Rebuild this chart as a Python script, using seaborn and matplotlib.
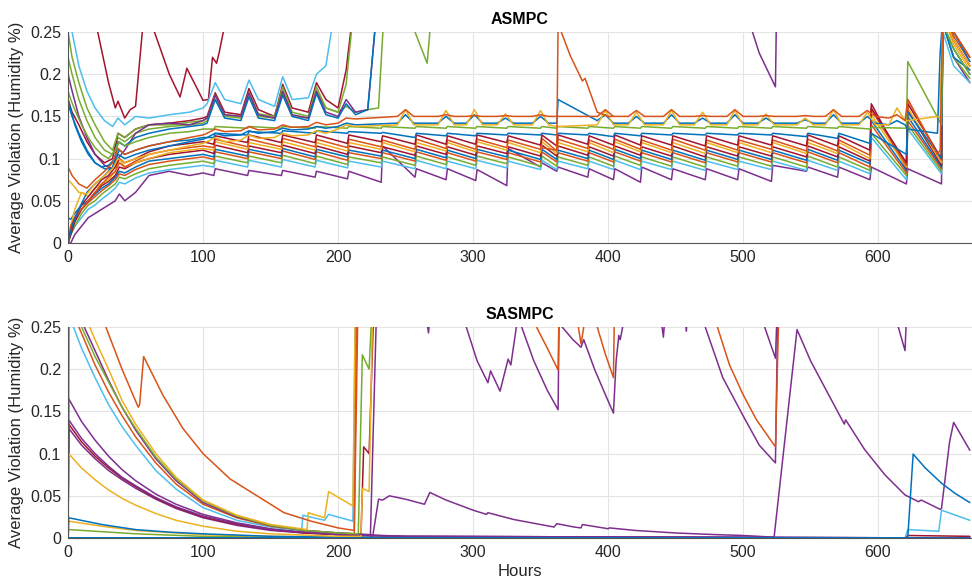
import matplotlib
matplotlib.use("Agg")
import matplotlib.pyplot as plt
import seaborn as sns

BLUE = "#0072BD"; ORANGE = "#D95319"; YELLOW = "#EDB120"; PURPLE = "#7E2F8E"
GREEN = "#77AC30"; CYAN = "#4DBEEE"; RED = "#A2142F"

# ---------------- ASMPC (top panel) ----------------
# shared hour grid for the bundle lines (dip at event hour, jump one hour later)
hours_saw = [0, 2, 5, 10, 15, 20, 25, 30, 35, 38, 42, 50, 60, 75, 90, 100,
             108, 109, 133, 134, 158, 159, 183, 184, 207, 208, 232, 233, 257, 258,
             280, 281, 302, 303, 325, 326, 350, 351, 362, 363, 385, 386, 404, 405,
             424, 425, 447, 448, 472, 473, 496, 497, 521, 522, 547, 548, 570, 571,
             594, 595, 621, 622, 647, 648, 656, 668]

saw_red = [0.0, 0.015, 0.03, 0.045, 0.055, 0.065, 0.075, 0.08, 0.09, 0.1, 0.095, 0.1, 0.108, 0.115, 0.118, 0.12,
           .117, .127, .119, .128, .119, .128, .119, .128, .118, .128, .12, .127, .117, .128, .117, .127, .117, .128,
           .119, .127, .116, .128, .115, .128, .117, .127, .116, .128, .116, .127, .116, .127, .115, .127, .116, .127,
           .116, .127, .115, .128, .115, .127, .11, .16, .095, .165, .1, .27, .24, .21]
saw_orange = [0, 0.02, 0.03, 0.04, 0.05, 0.06, 0.07, 0.078, 0.085, 0.095, 0.09, 0.097, 0.105, 0.11, 0.113, 0.115,
              .113, .123, .114, .123, .114, .124, .114, .123, .113, .123, .114, .122, .111, .123, .112, .122, .111, .123,
              .113, .122, .111, .124, .109, .123, .112, .122, .111, .123, .111, .122, .11, .123, .11, .122, .11, .122,
              .111, .122, .109, .123, .109, .122, .104, .158, .092, .17, .098, .28, .245, .215]
saw_yellow = [0, 0.02, 0.04, 0.06, 0.055, 0.065, 0.07, 0.075, 0.085, 0.1, 0.09, 0.095, 0.1, 0.107, 0.11, 0.112,
              .11, .12, .111, .119, .111, .12, .11, .119, .109, .119, .111, .119, .108, .119, .109, .119, .108, .12,
              .11, .119, .107, .12, .106, .119, .108, .119, .107, .12, .108, .119, .107, .119, .106, .119, .107, .119,
              .107, .119, .106, .119, .106, .119, .1, .152, .09, .16, .095, .27, .235, .205]
saw_red2 = [0, 0.01, 0.025, 0.04, 0.05, 0.06, 0.068, 0.073, 0.08, 0.09, 0.088, 0.095, 0.1, 0.105, 0.108, 0.11,
            .106, .116, .107, .115, .107, .116, .106, .115, .105, .115, .107, .114, .104, .115, .105, .114, .104, .115,
            .106, .114, .103, .116, .103, .115, .104, .114, .103, .115, .104, .114, .103, .115, .102, .114, .103, .114,
            .103, .114, .102, .115, .102, .114, .097, .165, .088, .158, .092, .3, .25, .22]
saw_blue = [0.03, 0.028, 0.035, 0.045, 0.05, 0.058, 0.065, 0.07, 0.078, 0.085, 0.083, 0.09, 0.097, 0.1, 0.103, 0.105,
            .102, .111, .103, .111, .103, .112, .102, .111, .102, .11, .103, .11, .1, .111, .101, .11, .1, .111,
            .102, .11, .099, .111, .099, .11, .1, .11, .099, .111, .1, .11, .099, .11, .098, .11, .099, .11,
            .099, .11, .098, .111, .098, .11, .094, .145, .086, .15, .09, .26, .23, .2]
saw_orange2 = [0, 0.015, 0.028, 0.04, 0.048, 0.055, 0.062, 0.068, 0.075, 0.082, 0.08, 0.087, 0.093, 0.097, 0.1, 0.102,
               .099, .108, .1, .108, .1, .109, .099, .108, .098, .107, .1, .107, .097, .108, .098, .107, .097, .108,
               .099, .107, .096, .108, .096, .107, .097, .107, .096, .108, .097, .107, .096, .107, .095, .107, .096, .107,
               .096, .107, .095, .108, .095, .107, .09, .14, .083, .145, .088, .29, .24, .21]
saw_green = [0, 0.01, 0.02, 0.035, 0.045, 0.05, 0.058, 0.064, 0.07, 0.078, 0.076, 0.082, 0.088, 0.092, 0.095, 0.097,
             .094, .103, .095, .103, .095, .104, .094, .103, .093, .102, .095, .102, .092, .103, .093, .102, .092, .103,
             .094, .102, .091, .103, .091, .102, .092, .102, .091, .103, .092, .102, .091, .102, .09, .102, .091, .102,
             .091, .102, .09, .103, .09, .102, .086, .13, .08, .14, .085, .26, .22, .195]
saw_cyan = [0, 0.01, 0.02, 0.03, 0.04, 0.045, 0.052, 0.058, 0.065, 0.072, 0.07, 0.077, 0.083, 0.087, 0.09, 0.092,
            .09, .098, .09, .098, .09, .099, .09, .098, .089, .097, .09, .097, .088, .098, .088, .097, .088, .098,
            .089, .097, .087, .098, .087, .097, .088, .097, .087, .098, .087, .097, .087, .097, .086, .097, .087, .097,
            .087, .097, .086, .098, .086, .097, .082, .125, .075, .135, .082, .25, .21, .19]
saw_purple = [0, 0.0, 0.01, 0.02, 0.03, 0.035, 0.04, 0.045, 0.05, 0.058, 0.05, 0.06, 0.08, 0.085, 0.08, 0.083,
              .08, .088, .08, .086, .08, .086, .078, .085, .076, .085, .072, .115, .078, .088, .075, .088, .074, .087,
              .068, .112, .09, .095, .085, .09, .078, .088, .075, .088, .072, .09, .075, .088, .075, .088, .075, .088,
              .073, .092, .085, .09, .078, .09, .075, .09, .07, .088, .07, .26, .22, .19]
saw_blue_mid = [0.17, 0.158, 0.14, 0.12, 0.105, 0.095, 0.09, 0.092, 0.1, 0.11, 0.105, 0.11, 0.115, 0.12, 0.122, 0.125,
                .125, .13, .128, .132, .13, .133, .13, .133, .13, .132, .13, .131, .125, .13, .127, .13, .127, .13,
                .128, .13, .128, .13, .128, .13, .128, .13, .126, .13, .127, .13, .128, .13, .128, .13, .128, .13,
                .128, .13, .126, .13, .124, .13, .118, .13, .105, .155, .1, .26, .22, .205]
saw_green_mid = [0.18, 0.17, 0.158, 0.14, 0.125, 0.113, 0.105, 0.1, 0.11, 0.12, 0.115, 0.12, 0.125, 0.13, 0.132, 0.135,
                 .135, .138, .136, .138, .136, .138, .136, .138, .136, .138, .136, .138, .136, .138, .136, .138, .136, .138,
                 .136, .138, .136, .138, .136, .138, .136, .138, .136, .138, .136, .138, .136, .138, .136, .138, .136, .138,
                 .136, .138, .136, .138, .136, .138, .135, .137, .136, .215, .14, .26, .23, .2]

# grid for the upper lines with rounded bumps
hours_bump = [0, 3, 8, 14, 20, 27, 33, 37, 42, 50, 60, 75, 90, 100,
              103, 109, 116, 128, 134, 141, 153, 159, 166, 178, 184, 191, 200, 206, 213,
              244, 250, 256, 274, 280, 286, 295, 301, 307, 318, 324, 330, 344, 350, 356, 362, 363,
              392, 398, 404, 415, 421, 427, 441, 447, 453, 464, 470, 476, 488, 494, 500, 511, 517, 523,
              540, 546, 552, 561, 567, 573, 586, 592, 598, 608, 614, 620, 622, 644, 646, 648, 656, 668]
bump_orange = [0.09, 0.08, 0.07, 0.065, 0.075, 0.085, 0.095, 0.112, 0.105, 0.11, 0.115, 0.12, 0.125, 0.128,
               0.13, 0.135, 0.132, 0.133, 0.138, 0.134, 0.135, 0.14, 0.137, 0.138, 0.143, 0.14, 0.142, 0.148, 0.147,
               0.15, 0.158, 0.15, 0.15, 0.152, 0.15, 0.15, 0.151, 0.15, 0.15, 0.151, 0.15, 0.15, 0.152, 0.15, 0.15, 0.15,
               0.15, 0.158, 0.15, 0.15, 0.157, 0.15, 0.15, 0.158, 0.15, 0.15, 0.151, 0.15, 0.15, 0.158, 0.15, 0.15, 0.151, 0.15,
               0.15, 0.151, 0.15, 0.15, 0.158, 0.15, 0.15, 0.157, 0.15, 0.148, 0.152, 0.145, 0.17, 0.105, 0.11, 0.28, 0.25, 0.22]
bump_yellow = [0.075, 0.07, 0.06, 0.058, 0.07, 0.08, 0.088, 0.1, 0.095, 0.1, 0.105, 0.11, 0.115, 0.118,
               0.12, 0.125, 0.12, 0.122, 0.128, 0.124, 0.125, 0.13, 0.127, 0.128, 0.133, 0.13, 0.135, 0.14, 0.138,
               0.14, 0.158, 0.14, 0.14, 0.157, 0.14, 0.14, 0.158, 0.14, 0.14, 0.153, 0.14, 0.14, 0.157, 0.14, 0.138, 0.138,
               0.14, 0.157, 0.14, 0.14, 0.155, 0.14, 0.14, 0.157, 0.14, 0.14, 0.155, 0.14, 0.14, 0.157, 0.14, 0.14, 0.153, 0.14,
               0.14, 0.148, 0.14, 0.14, 0.158, 0.14, 0.14, 0.155, 0.14, 0.14, 0.16, 0.145, 0.145, 0.15, 0.148, 0.27, 0.24, 0.21]
bump_blue = [0.0, 0.02, 0.04, 0.06, 0.07, 0.08, 0.09, 0.105, 0.1, 0.105, 0.11, 0.115, 0.12, 0.123,
             0.125, 0.13, 0.127, 0.128, 0.133, 0.13, 0.132, 0.136, 0.134, 0.135, 0.138, 0.136, 0.138, 0.142, 0.14,
             0.142, 0.152, 0.142, 0.142, 0.15, 0.142, 0.142, 0.152, 0.142, 0.142, 0.148, 0.142, 0.142, 0.15, 0.142, 0.142, 0.17,
             0.145, 0.152, 0.142, 0.142, 0.15, 0.142, 0.142, 0.152, 0.142, 0.142, 0.148, 0.142, 0.142, 0.152, 0.142, 0.142, 0.148, 0.142,
             0.142, 0.146, 0.142, 0.142, 0.152, 0.142, 0.142, 0.15, 0.142, 0.14, 0.145, 0.14, 0.135, 0.13, 0.225, 0.27, 0.25, 0.215]

# grid for the high group that leaves the axes around hour 200-235
hours_high = [0, 3, 8, 14, 20, 27, 33, 37, 42, 50, 60, 75, 90, 100, 103, 109, 116, 128, 134, 141,
              153, 159, 166, 178, 184, 191, 200, 206, 213, 222, 230, 235]
high_cyan = [0.3, 0.25, 0.21, 0.18, 0.16, 0.145, 0.138, 0.148, 0.14, 0.15, 0.148, 0.152, 0.155, 0.16, 0.165, 0.19,
             0.17, 0.165, 0.193, 0.17, 0.162, 0.197, 0.17, 0.172, 0.2, 0.21, 0.3, 0.3, 0.3, 0.3, 0.3, 0.3]
high_red = [0.17, 0.155, 0.14, 0.12, 0.105, 0.095, 0.1, 0.13, 0.125, 0.135, 0.14, 0.142, 0.145, 0.148, 0.15, 0.178,
            0.155, 0.152, 0.183, 0.158, 0.15, 0.188, 0.16, 0.155, 0.19, 0.17, 0.16, 0.205, 0.3, 0.3, 0.3, 0.3]
high_green = [0.25, 0.22, 0.19, 0.16, 0.14, 0.12, 0.11, 0.13, 0.125, 0.135, 0.14, 0.14, 0.143, 0.145, 0.148, 0.175,
              0.152, 0.15, 0.178, 0.153, 0.15, 0.185, 0.155, 0.15, 0.185, 0.16, 0.155, 0.188, 0.3, 0.3, 0.3, 0.3]
high_purple = [0.2, 0.18, 0.15, 0.125, 0.105, 0.092, 0.088, 0.1, 0.11, 0.13, 0.14, 0.142, 0.14, 0.145, 0.148, 0.175,
               0.152, 0.15, 0.178, 0.152, 0.148, 0.18, 0.152, 0.148, 0.18, 0.155, 0.15, 0.17, 0.155, 0.158, 0.3, 0.3]
high_blue = [0.165, 0.15, 0.13, 0.11, 0.095, 0.088, 0.088, 0.12, 0.115, 0.125, 0.13, 0.135, 0.138, 0.14, 0.142, 0.17,
             0.148, 0.145, 0.173, 0.148, 0.145, 0.175, 0.15, 0.145, 0.177, 0.152, 0.148, 0.165, 0.152, 0.158, 0.3, 0.3]
high_green2 = [0.22, 0.2, 0.17, 0.145, 0.125, 0.11, 0.105, 0.125, 0.12, 0.13, 0.135, 0.138, 0.14, 0.142, 0.145, 0.17,
               0.15, 0.148, 0.175, 0.15, 0.148, 0.178, 0.15, 0.148, 0.18, 0.16, 0.155, 0.162, 0.155, 0.158, 0.16, 0.3]

wild_red_hours = [0, 8, 15, 22, 30, 35, 37, 42, 46, 50, 55, 59, 64, 75, 83, 88, 95, 100, 104, 107, 110, 112, 115, 118]
wild_red_vals = [0.4, 0.35, 0.3, 0.25, 0.19, 0.16, 0.168, 0.148, 0.158, 0.162, 0.25, 0.3, 0.25, 0.2, 0.173, 0.207,
                 0.185, 0.169, 0.17, 0.22, 0.213, 0.226, 0.25, 0.3]
green_v_hours = [250, 257, 266, 268, 272]
green_v_vals = [0.3, 0.25, 0.213, 0.25, 0.3]
purple_v_hours = [500, 507, 512, 524, 525]
purple_v_vals = [0.3, 0.25, 0.225, 0.185, 0.3]
orange_spike_hours = [350, 362, 363, 372, 381, 383, 392, 400, 404]
orange_spike_vals = [0.113, 0.11, 0.26, 0.222, 0.192, 0.195, 0.155, 0.15, 0.15]

# ---------------- SASMPC (bottom panel) ----------------
b_orange_h = [0, 0.6, 10, 20, 28, 40, 52, 53, 56, 70, 85, 100, 120, 140, 160, 180, 200, 212, 214, 340,
              347, 355, 363, 364, 376, 378, 380, 382, 384, 390, 392, 398, 404, 405, 478, 481, 490, 500, 510, 524, 527, 668]
b_orange_v = [0, 0.5, 0.38, 0.3, 0.25, 0.2, 0.155, 0.158, 0.215, 0.17, 0.13, 0.1, 0.07, 0.05, 0.03, 0.02, 0.012, 0.009, 0.3, 0.3,
              0.25, 0.225, 0.199, 0.3, 0.3, 0.25, 0.23, 0.25, 0.3, 0.3, 0.25, 0.218, 0.19, 0.3, 0.3, 0.25, 0.205, 0.17, 0.14, 0.108, 0.3, 0.3]
b_cyan_h = [0, 0.5, 4, 10, 20, 30, 40, 50, 65, 80, 100, 125, 150, 173, 174, 190, 193, 211, 213]
b_cyan_v = [0, 0.3, 0.25, 0.225, 0.19, 0.158, 0.132, 0.11, 0.08, 0.058, 0.036, 0.021, 0.013, 0.009, 0.027, 0.021, 0.028, 0.02, 0.3]
b_yellow_h = [0, 0.5, 16, 20, 30, 40, 50, 65, 80, 100, 125, 150, 177, 178, 190, 193, 211, 213]
b_yellow_v = [0, 0.4, 0.25, 0.235, 0.2, 0.163, 0.135, 0.1, 0.072, 0.045, 0.027, 0.016, 0.01, 0.03, 0.024, 0.055, 0.038, 0.3]
b_green_h = [0, 0.5, 10, 20, 30, 40, 50, 65, 80, 100, 125, 150, 175, 200, 215, 218, 223, 226]
b_green_v = [0, 0.4, 0.25, 0.215, 0.185, 0.155, 0.13, 0.096, 0.07, 0.044, 0.026, 0.015, 0.009, 0.006, 0.005, 0.217, 0.2, 0.3]
b_orange2_h = [0, 0.5, 8, 20, 30, 40, 50, 65, 80, 100, 125, 150, 175, 200, 212, 215]
b_orange2_v = [0, 0.4, 0.25, 0.205, 0.173, 0.145, 0.12, 0.089, 0.064, 0.04, 0.024, 0.014, 0.009, 0.006, 0.005, 0.3]
b_purple_h = [0, 0.5, 12, 20, 30, 40, 50, 65, 80, 100, 125, 150, 175, 200, 224, 229, 262, 267, 270, 290,
              295, 303, 311, 313, 320, 326, 328, 333, 336, 345, 355, 363, 364, 366, 374, 380, 382, 390, 398, 404,
              406, 408, 409, 412, 436, 441, 444, 455, 458, 460, 468, 472, 485, 500, 512, 524, 526, 668]
b_purple_v = [0, 0.4, 0.25, 0.222, 0.187, 0.155, 0.128, 0.094, 0.068, 0.042, 0.025, 0.015, 0.009, 0.006, 0.004, 0.3, 0.3, 0.243, 0.3, 0.3,
              0.25, 0.21, 0.184, 0.198, 0.174, 0.212, 0.205, 0.26, 0.25, 0.21, 0.175, 0.152, 0.3, 0.25, 0.235, 0.226, 0.235, 0.2, 0.17, 0.148,
              0.21, 0.24, 0.235, 0.26, 0.3, 0.238, 0.3, 0.3, 0.245, 0.3, 0.3, 0.25, 0.19, 0.145, 0.11, 0.089, 0.3, 0.3]
b_purple2_h = [510, 516, 524, 526]
b_purple2_v = [0.3, 0.25, 0.213, 0.3]
b_purple3_h = [612, 615, 620, 622]
b_purple3_v = [0.3, 0.25, 0.222, 0.3]
decay_h = [0, 0.5, 10, 20, 30, 40, 50, 65, 80, 100, 125, 150, 175, 200, 250, 668]
b_purpleB1_v = [0, 0.165, 0.138, 0.116, 0.097, 0.081, 0.068, 0.052, 0.04, 0.028, 0.018, 0.011, 0.007, 0.005, 0.002, 0.0]
b_purpleB2_v = [0, 0.14, 0.118, 0.1, 0.085, 0.072, 0.062, 0.048, 0.037, 0.026, 0.017, 0.01, 0.007, 0.004, 0.002, 0.0]
b_purpleB3_v = [0, 0.13, 0.11, 0.094, 0.08, 0.069, 0.059, 0.046, 0.035, 0.024, 0.015, 0.009, 0.006, 0.004, 0.002, 0.0]
b_redB_h = [0, 0.5, 10, 20, 30, 40, 50, 65, 80, 100, 125, 150, 175, 200, 217, 219, 223, 227]
b_redB_v = [0, 0.135, 0.114, 0.097, 0.083, 0.071, 0.061, 0.047, 0.036, 0.025, 0.016, 0.01, 0.006, 0.004, 0.003, 0.108, 0.1, 0.3]
b_yellowC_h = [0, 0.5, 10, 20, 30, 40, 50, 65, 80, 100, 125, 150, 200, 217, 218, 223, 226]
b_yellowC_v = [0, 0.1, 0.083, 0.069, 0.057, 0.047, 0.039, 0.029, 0.021, 0.014, 0.008, 0.005, 0.002, 0.002, 0.059, 0.055, 0.3]
b_blueL_h = [0, 0.5, 25, 50, 75, 100, 150, 200, 668]
b_blueL_v = [0, 0.024, 0.016, 0.01, 0.007, 0.005, 0.002, 0.001, 0.0]
b_yellowL_h = [0, 0.5, 25, 50, 100, 150, 200, 668]
b_yellowL_v = [0, 0.02, 0.014, 0.009, 0.004, 0.002, 0.001, 0.0]
b_greenL_h = [0, 0.5, 50, 100, 200, 668]
b_greenL_v = [0, 0.01, 0.005, 0.002, 0.001, 0.0]
b_plow_h = [0, 224, 226, 230, 233, 235, 238, 250, 264, 268, 280, 300, 310, 311, 330, 360, 362, 375, 380, 381,
            400, 401, 420, 450, 480, 500, 523, 540, 550, 560, 575, 576, 590, 605, 620, 630, 632, 646, 647, 653, 656, 668]
b_plow_v = [0, 0, 0.005, 0.046, 0.045, 0.047, 0.05, 0.046, 0.04, 0.054, 0.045, 0.033, 0.028, 0.03, 0.022, 0.013, 0.017, 0.013, 0.012, 0.016,
            0.011, 0.012, 0.009, 0.006, 0.004, 0.003, 0.001, 0.247, 0.21, 0.18, 0.135, 0.14, 0.105, 0.075, 0.051, 0.043, 0.045, 0.034, 0.035, 0.114,
            0.137, 0.104]
b_blueC_h = [0, 622, 626, 635, 647, 657, 668]
b_blueC_v = [0, 0, 0.0995, 0.083, 0.065, 0.053, 0.042]
b_cyanC_h = [0, 620, 622, 645, 647, 668]
b_cyanC_v = [0, 0, 0.01, 0.008, 0.033, 0.021]
b_redL_h = [0, 620, 622, 668]
b_redL_v = [0, 0, 0.003, 0.002]
b_blue0_h = [0, 668]
b_blue0_v = [0, 0]

x_ticks = [0, 100, 200, 300, 400, 500, 600]
y_ticks = [0, 0.05, 0.1, 0.15, 0.2, 0.25]
y_tick_labels = ["0", "0.05", "0.1", "0.15", "0.2", "0.25"]

sns.set_theme(style="whitegrid")
plt.rcParams["font.family"] = ["Liberation Sans", "DejaVu Sans"]

fig = plt.figure(figsize=(9.72, 5.85), dpi=100)
ax1 = fig.add_axes([0.07, 0.5846, 0.93, 0.3607])
ax2 = fig.add_axes([0.07, 0.0803, 0.93, 0.3607])


def draw(ax, x, y, c):
    sns.lineplot(x=x, y=y, color=c, ax=ax, lw=1.1, estimator=None, sort=False)


top_layers = [
    (wild_red_hours, wild_red_vals, RED),
    (hours_high, high_green2, GREEN),
    (hours_high, high_cyan, CYAN),
    (hours_high, high_red, RED),
    (hours_high, high_green, GREEN),
    (hours_high, high_purple, PURPLE),
    (hours_high, high_blue, BLUE),
    (hours_saw, saw_purple, PURPLE),
    (hours_saw, saw_cyan, CYAN),
    (hours_saw, saw_green, GREEN),
    (hours_saw, saw_orange2, ORANGE),
    (hours_saw, saw_blue, BLUE),
    (hours_saw, saw_red2, RED),
    (hours_saw, saw_yellow, YELLOW),
    (hours_saw, saw_orange, ORANGE),
    (hours_saw, saw_red, RED),
    (hours_saw, saw_blue_mid, BLUE),
    (hours_saw, saw_green_mid, GREEN),
    (hours_bump, bump_blue, BLUE),
    (hours_bump, bump_yellow, YELLOW),
    (hours_bump, bump_orange, ORANGE),
    (green_v_hours, green_v_vals, GREEN),
    (purple_v_hours, purple_v_vals, PURPLE),
    (orange_spike_hours, orange_spike_vals, ORANGE),
]
for x, y, c in top_layers:
    draw(ax1, x, y, c)

bottom_layers = [
    (b_greenL_h, b_greenL_v, GREEN),
    (b_yellowL_h, b_yellowL_v, YELLOW),
    (b_blueL_h, b_blueL_v, BLUE),
    (b_redL_h, b_redL_v, RED),
    (decay_h, b_purpleB3_v, PURPLE),
    (b_redB_h, b_redB_v, RED),
    (decay_h, b_purpleB2_v, PURPLE),
    (decay_h, b_purpleB1_v, PURPLE),
    (b_yellowC_h, b_yellowC_v, YELLOW),
    (b_cyan_h, b_cyan_v, CYAN),
    (b_orange2_h, b_orange2_v, ORANGE),
    (b_purple_h, b_purple_v, PURPLE),
    (b_green_h, b_green_v, GREEN),
    (b_yellow_h, b_yellow_v, YELLOW),
    (b_purple2_h, b_purple2_v, PURPLE),
    (b_purple3_h, b_purple3_v, PURPLE),
    (b_plow_h, b_plow_v, PURPLE),
    (b_cyanC_h, b_cyanC_v, CYAN),
    (b_blueC_h, b_blueC_v, BLUE),
    (b_orange_h, b_orange_v, ORANGE),
    (b_blue0_h, b_blue0_v, BLUE),
]
for x, y, c in bottom_layers:
    draw(ax2, x, y, c)

for ax, title in ((ax1, "ASMPC"), (ax2, "SASMPC")):
    ax.set_facecolor("white")
    ax.set_xlim(0, 669.6)
    ax.set_ylim(0, 0.25)
    ax.set_xticks(x_ticks)
    ax.set_xticklabels([str(v) for v in x_ticks])
    ax.set_yticks(y_ticks)
    ax.set_yticklabels(y_tick_labels)
    ax.grid(True, color="#e4e4e4", lw=0.8)
    for s in ("top", "right"):
        ax.spines[s].set_visible(False)
    for s in ("left", "bottom"):
        ax.spines[s].set_visible(True)
        ax.spines[s].set_color("#555555")
        ax.spines[s].set_linewidth(0.8)
    ax.tick_params(direction="in", length=4, width=0.8, labelsize=11.5,
                   colors="#555555", labelcolor="#262626", pad=5)
    ax.set_ylabel("Average Violation (Humidity %)", fontsize=12, color="#262626", labelpad=4)
    ax.set_xlabel("")
    ax.set_title(title, fontsize=11.5, fontweight="bold", color="#000000", pad=6)

ax2.set_xlabel("Hours", fontsize=12, color="#262626", labelpad=3)

fig.savefig("out.png", dpi=100)
